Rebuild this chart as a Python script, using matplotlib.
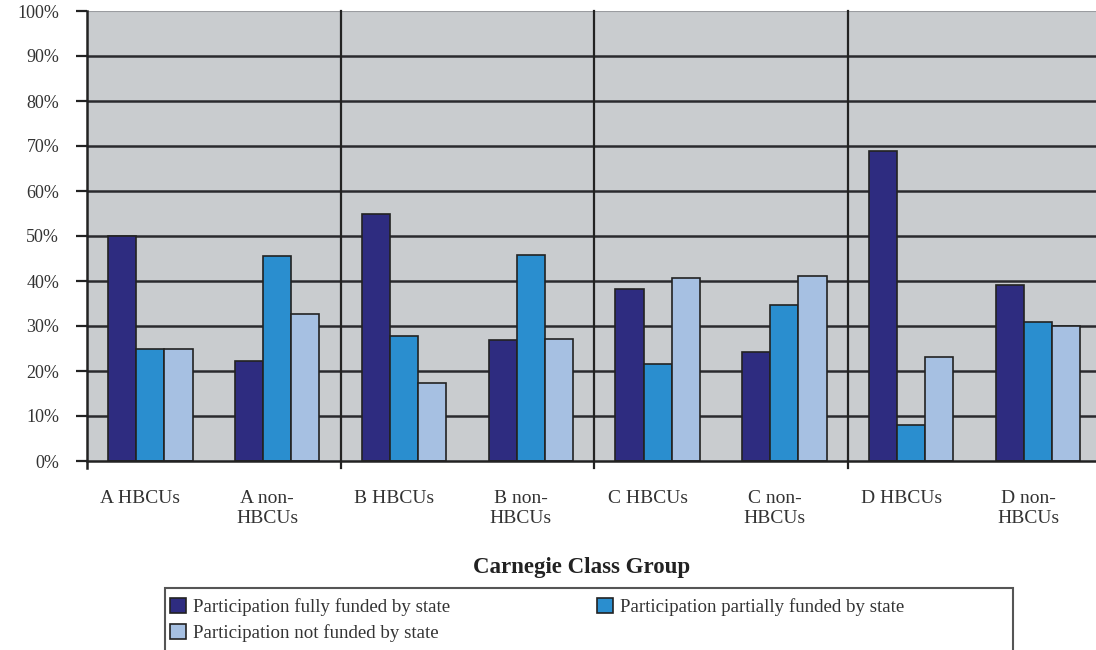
import matplotlib
matplotlib.use('Agg')
import matplotlib.pyplot as plt
import matplotlib.transforms as mtrans
from matplotlib.patches import Rectangle
import numpy as np

plt.rcParams['font.family'] = ['Liberation Serif', 'DejaVu Serif']

categories = ['A HBCUs', 'A non-\nHBCUs', 'B HBCUs', 'B non-\nHBCUs',
              'C HBCUs', 'C non-\nHBCUs', 'D HBCUs', 'D non-\nHBCUs']
fully = [50.0, 22.3, 54.9, 26.9, 38.3, 24.3, 69.0, 39.1]
partially = [25.0, 45.5, 27.7, 45.8, 21.5, 34.6, 7.9, 31.0]
not_funded = [25.0, 32.6, 17.3, 27.2, 40.7, 41.2, 23.1, 30.0]
y_ticks = [0, 10, 20, 30, 40, 50, 60, 70, 80, 90, 100]

c_dark = '#2e2c80'
c_mid = '#2a8ecf'
c_light = '#a6c0e2'
bg = '#c9cccf'

W, H = 1096, 650
fig = plt.figure(figsize=(W / 100, H / 100), dpi=100)
# axes: left 87px, top 11px, bottom 461px, 8 categories of ~126.8px
ax = fig.add_axes([87 / W, 1 - 461 / H, 8 * 126.8 / W, 450 / H])
ax.set_facecolor(bg)

x = np.arange(len(categories))
bw = 0.222
ax.bar(x - bw, fully, bw, color=c_dark, edgecolor='#222222', lw=1.2, zorder=3,
       label='Participation fully funded by state')
ax.bar(x, partially, bw, color=c_mid, edgecolor='#222222', lw=1.2, zorder=3,
       label='Participation partially funded by state')
ax.bar(x + bw, not_funded, bw, color=c_light, edgecolor='#222222', lw=1.2, zorder=3,
       label='Participation not funded by state')

ax.set_xlim(-0.5, 7.5)
ax.set_ylim(0, 100)

# horizontal grid lines
for v in y_ticks[1:-1]:
    ax.axhline(v, color='#2a2a2e', lw=1.8, zorder=1)
ax.axhline(100, color='#9a9ca0', lw=1.5, zorder=1)

# group separators, running a bit below the axis
for sx in [1.5, 3.5, 5.5]:
    ax.plot([sx, sx], [-1.6, 100], color='#222222', lw=1.6, zorder=2, clip_on=False)
ax.plot([-0.5, -0.5], [-1.6, 100], color='#222222', lw=1.8, zorder=4, clip_on=False)

for s in ['top', 'right', 'left']:
    ax.spines[s].set_visible(False)
ax.spines['bottom'].set_color('#222222')
ax.spines['bottom'].set_linewidth(1.8)
ax.spines['bottom'].set_zorder(4)

ax.set_yticks(y_ticks)
ax.set_yticklabels([f'{v}%' for v in y_ticks], fontsize=13, color='#333333')
ax.tick_params(axis='y', length=8, width=1.6, color='#222222', pad=12)
ax.set_xticks(x)
ax.set_xticklabels(categories, fontsize=14, color='#333333', linespacing=1.22)
ax.tick_params(axis='x', length=0, pad=21)
shift = mtrans.ScaledTranslation(-10 / 100, 0, fig.dpi_scale_trans)
for t in ax.get_xticklabels():
    t.set_transform(t.get_transform() + shift)

fig.text(582 / W, 1 - 567 / H, 'Carnegie Class Group', ha='center', va='center',
         fontsize=16.5, fontweight='bold', color='#222222')

# legend frame, running off the bottom edge
fig.patches.append(Rectangle((165 / W, -0.05), (1013 - 165) / W, 0.05 + 1 - 588 / H,
                             transform=fig.transFigure, facecolor='white',
                             edgecolor='#555555', lw=1.5, zorder=0))

h, l = ax.get_legend_handles_labels()
order = [0, 2, 1]
leg = fig.legend([h[i] for i in order], [l[i] for i in order], ncol=2,
                 loc='upper left', bbox_to_anchor=(170 / W, 1 - 598 / H),
                 fontsize=13.6, frameon=False, borderaxespad=0, borderpad=0,
                 handlelength=0.85, handleheight=0.85, handletextpad=0.35,
                 labelspacing=0.4, columnspacing=7.8)
for t in leg.get_texts():
    t.set_color('#333333')

fig.savefig('out.png', dpi=100)
